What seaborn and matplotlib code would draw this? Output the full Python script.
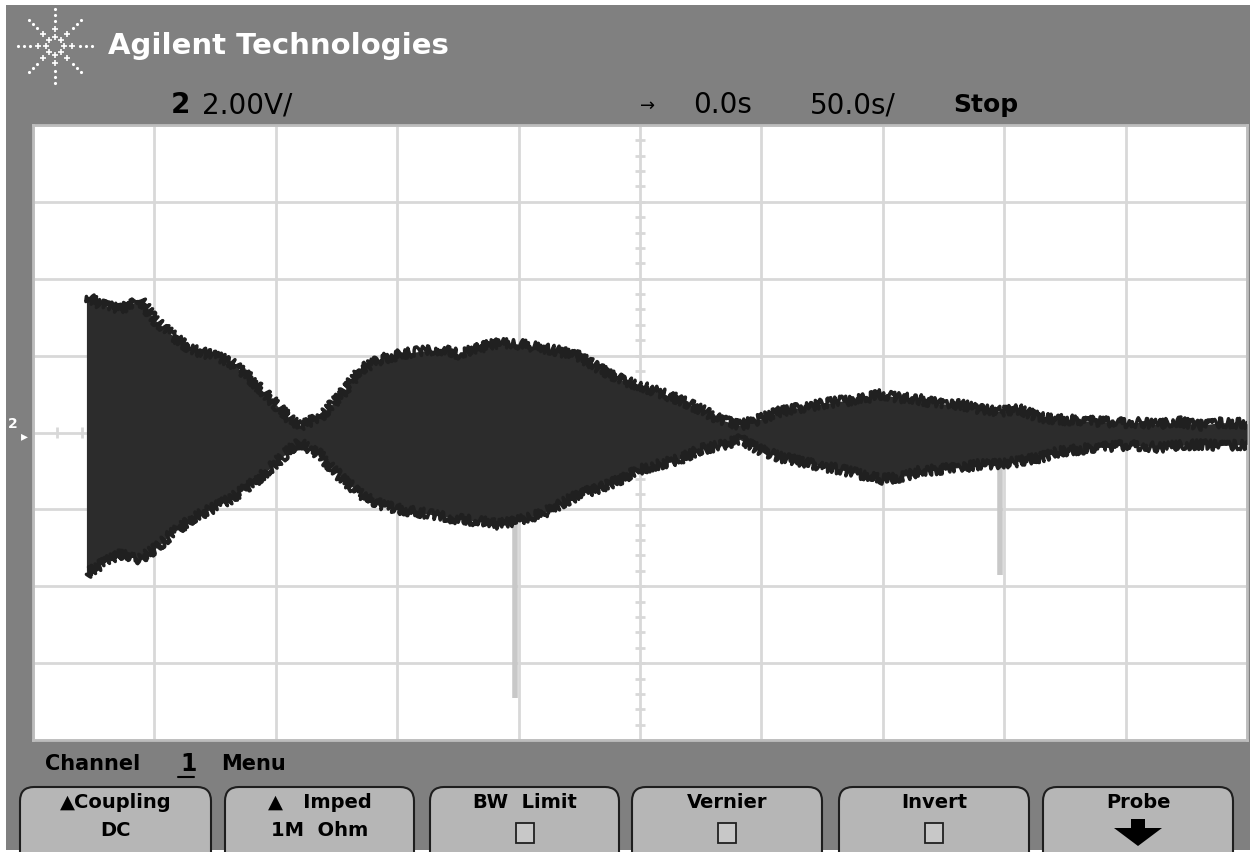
import numpy as np
import matplotlib
matplotlib.use('Agg')
import matplotlib.pyplot as plt
import seaborn as sns
from matplotlib.patches import Rectangle, FancyBboxPatch, Polygon

# time (s) and envelope (V), 50 s/div, 2 V/div
tempo = [-228, -222, -214, -206, -200, -193, -185, -177, -169, -160,
         -152, -144, -140, -132, -123, -115, -107, -99, -91, -82,
         -74, -66, -58, -49, -41, -33, -25, -16, -8, 0,
         8, 16, 25, 33, 41, 49, 58, 66, 74, 82,
         91, 99, 107, 115, 123, 132, 140, 148, 156, 165,
         173, 181, 189, 197, 206, 214, 222, 230, 239, 250]
env_sup = [3.54, 3.33, 3.20, 3.46, 2.94, 2.55, 2.16, 2.03, 1.85, 1.38,
           0.86, 0.34, 0.18, 0.39, 0.99, 1.64, 1.90, 2.03, 2.11, 2.16,
           2.03, 2.21, 2.34, 2.29, 2.21, 2.11, 1.98, 1.64, 1.38, 1.22,
           1.04, 0.86, 0.60, 0.34, 0.18, 0.34, 0.55, 0.65, 0.73, 0.81,
           0.86, 0.99, 0.91, 0.86, 0.75, 0.73, 0.60, 0.55, 0.60, 0.39,
           0.34, 0.31, 0.29, 0.26, 0.26, 0.21, 0.29, 0.18, 0.26, 0.23]
env_inf = [-3.69, -3.43, -3.17, -3.30, -3.04, -2.65, -2.26, -2.00, -1.74, -1.35,
           -0.91, -0.44, -0.26, -0.57, -1.17, -1.61, -1.87, -2.00, -2.08, -2.18,
           -2.26, -2.31, -2.39, -2.26, -2.13, -1.87, -1.61, -1.43, -1.22, -0.96,
           -0.83, -0.70, -0.44, -0.34, -0.18, -0.44, -0.65, -0.75, -0.86, -0.96,
           -1.09, -1.22, -1.17, -1.01, -0.96, -0.91, -0.83, -0.83, -0.75, -0.65,
           -0.49, -0.44, -0.39, -0.34, -0.34, -0.39, -0.34, -0.31, -0.34, -0.31]

# picos isolados (cinza claro)
pico_t = [-51.4, 148.1]
pico_min = [-6.9, -3.7]
pico_max = [-2.2, -0.8]

botoes = [('▲Coupling', 'DC'), ('▲   Imped', '1M  Ohm'), ('BW  Limit', 'box'),
          ('Vernier', 'box'), ('Invert', 'box'), ('Probe', 'arrow')]
botoes_x = [(20, 211), (225, 414), (430, 619), (632, 822), (839, 1029), (1043, 1233)]

sns.set_style('white')
plt.rcParams['text.color'] = 'black'
W, H = 1253, 852
fig = plt.figure(figsize=(W / 100, H / 100), dpi=100)
fig.patch.set_facecolor('white')

# fundo do osciloscopio (coordenadas em pixels)
bg = fig.add_axes([0, 0, 1, 1], zorder=0)
bg.set_xlim(0, W)
bg.set_ylim(H, 0)
bg.axis('off')
bg.add_patch(Rectangle((6, 5), 1244, 845, color='#808080', lw=0))

# logo
cx, cy = 55, 46
for ang in np.arange(0, 360, 45):
    dx, dy = np.cos(np.radians(ang)), np.sin(np.radians(ang))
    for r in (9, 17):
        bg.plot(cx + r * dx, cy + r * dy, marker='+', color='white', ms=5, mew=1.2)
    for r in (25, 31, 37):
        bg.plot(cx + r * dx, cy + r * dy, marker='.', color='white', ms=2.5)
bg.text(108, 46, 'Agilent Technologies', color='white', fontsize=21,
        fontweight='bold', va='center', ha='left')

# cabecalho
bg.text(171, 105, '2', fontsize=20, fontweight='bold', va='center')
bg.text(202, 105, '2.00V/', fontsize=20, va='center')
bg.text(640, 106, '→', fontsize=13, va='center')
bg.text(693, 105, '0.0s', fontsize=20, va='center')
bg.text(810, 105, '50.0s/', fontsize=20, va='center')
bg.text(953, 105, 'Stop', fontsize=18, fontweight='bold', va='center')

# marcador do canal
bg.text(13, 424, '2', color='white', fontsize=10, fontweight='bold', va='center', ha='center')
bg.text(24, 436, '▸', color='white', fontsize=10, va='center', ha='center')

# menu
bg.text(45, 764, 'Channel', fontsize=15, fontweight='bold', va='center')
bg.text(180, 764, '1', fontsize=17, fontweight='bold', va='center')
bg.plot([178, 194], [777, 777], color='black', lw=1.5)
bg.text(221, 764, 'Menu', fontsize=15, fontweight='bold', va='center')

for (l1, l2), (x0, x1) in zip(botoes, botoes_x):
    bg.add_patch(FancyBboxPatch((x0, 787), x1 - x0, 80, boxstyle='round,pad=0,rounding_size=14',
                                fc='#b6b6b6', ec='#1e1e1e', lw=1.5))
    xm = (x0 + x1) / 2
    bg.text(xm, 803, l1, fontsize=14, fontweight='bold', va='center', ha='center')
    if l2 == 'box':
        bg.add_patch(Rectangle((xm - 9, 823), 18, 20, fc='#c8c8c8', ec='#202020', lw=1.3))
    elif l2 == 'arrow':
        bg.add_patch(Rectangle((xm - 7, 819), 14, 9, color='black', lw=0))
        bg.add_patch(Polygon([[xm - 24, 828], [xm + 24, 828], [xm, 846]], closed=True,
                             color='black', lw=0))
    else:
        bg.text(xm, 830, l2, fontsize=14, fontweight='bold', va='center', ha='center')

# tela
ax = fig.add_axes([33 / W, 1 - 740 / H, (1247 - 33) / W, (740 - 125) / H], zorder=1)
ax.set_facecolor('white')
ax.set_xlim(-250, 250)
ax.set_ylim(-8, 8)
ax.set_xticks(np.arange(-250, 251, 50))
ax.set_yticks(np.arange(-8, 9, 2))
ax.tick_params(length=0, labelbottom=False, labelleft=False)
ax.grid(True, color='#d8d8d8', lw=2)
for s in ax.spines.values():
    s.set_color('#bdbdbd')
    s.set_linewidth(2)

ax.vlines(np.arange(-250, 251, 10), -0.14, 0.14, color='#d8d8d8', lw=2)
ax.hlines(np.arange(-8, 8.01, 0.4), -2.2, 2.2, color='#d8d8d8', lw=2)

ax.vlines(pico_t, pico_min, pico_max, color='#c8c8c8', lw=4, zorder=2)
onda = ax.fill_between(tempo, env_inf, env_sup, color='#2c2c2c', lw=0, zorder=3)
sns.lineplot(x=tempo, y=env_sup, ax=ax, color='#202020', lw=2.5, zorder=4)
sns.lineplot(x=tempo, y=env_inf, ax=ax, color='#202020', lw=2.5, zorder=4)
# bordas "peludas" como no traço do osciloscópio
for ln in ax.lines:
    ln.set_sketch_params(scale=5, length=3, randomness=4)
ax.set_xlabel('')
ax.set_ylabel('')

fig.savefig('out.png', dpi=100)
